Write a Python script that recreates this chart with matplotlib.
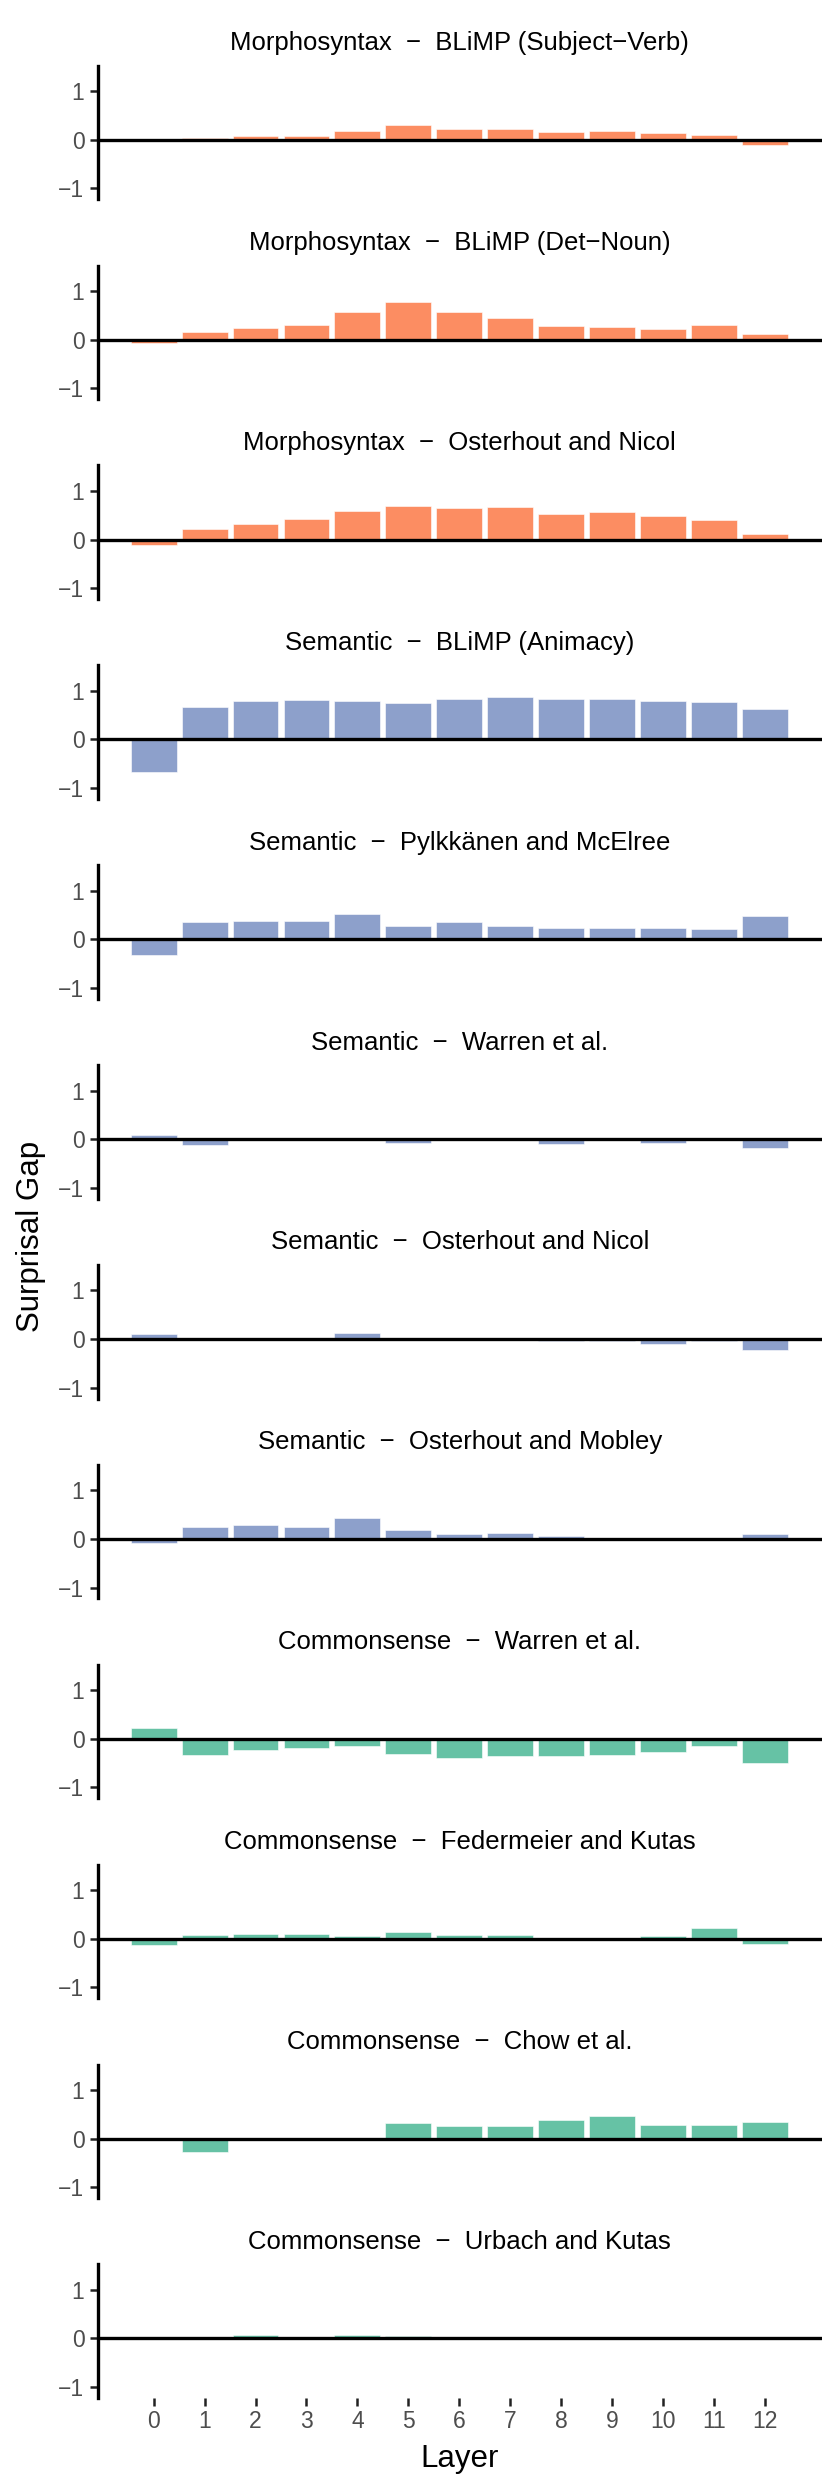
import matplotlib
matplotlib.use('Agg')
import matplotlib.pyplot as plt

plt.rcParams['font.family'] = ['Liberation Sans', 'DejaVu Sans']

layers = list(range(13))

panel_types = ['Morphosyntax', 'Morphosyntax', 'Morphosyntax',
               'Semantic', 'Semantic', 'Semantic', 'Semantic', 'Semantic',
               'Commonsense', 'Commonsense', 'Commonsense', 'Commonsense']
panel_sources = ['BLiMP (Subject\u2212Verb)', 'BLiMP (Det\u2212Noun)', 'Osterhout and Nicol',
                 'BLiMP (Animacy)', 'Pylkk\u00e4nen and McElree', 'Warren et al.',
                 'Osterhout and Nicol', 'Osterhout and Mobley',
                 'Warren et al.', 'Federmeier and Kutas', 'Chow et al.', 'Urbach and Kutas']

type_colors = {'Morphosyntax': '#FC8D62', 'Semantic': '#8DA0CB', 'Commonsense': '#66C2A5'}

morph_subj_verb = [0.0, 0.03, 0.07, 0.08, 0.18, 0.31, 0.23, 0.22, 0.15, 0.18, 0.14, 0.10, -0.10]
morph_det_noun = [-0.07, 0.15, 0.23, 0.31, 0.56, 0.78, 0.57, 0.44, 0.29, 0.26, 0.21, 0.31, 0.11]
morph_osterhout_nicol = [-0.12, 0.22, 0.31, 0.42, 0.59, 0.70, 0.64, 0.67, 0.52, 0.56, 0.48, 0.41, 0.12]
sem_animacy = [-0.67, 0.67, 0.79, 0.81, 0.80, 0.76, 0.84, 0.87, 0.84, 0.83, 0.80, 0.78, 0.63]
sem_pylkkanen = [-0.33, 0.35, 0.37, 0.37, 0.52, 0.27, 0.35, 0.27, 0.24, 0.24, 0.24, 0.22, 0.49]
sem_warren = [0.09, -0.12, 0.0, 0.0, 0.0, -0.07, 0.0, 0.0, -0.10, 0.0, -0.07, 0.0, -0.18]
sem_osterhout_nicol = [0.10, 0.0, 0.0, 0.0, 0.13, 0.0, 0.0, 0.0, -0.04, -0.05, -0.10, -0.05, -0.22]
sem_osterhout_mobley = [-0.08, 0.24, 0.29, 0.24, 0.43, 0.19, 0.10, 0.12, 0.06, 0.0, 0.0, -0.02, 0.10]
cs_warren = [0.22, -0.34, -0.22, -0.19, -0.14, -0.31, -0.40, -0.35, -0.35, -0.33, -0.27, -0.14, -0.49]
cs_federmeier = [-0.12, 0.07, 0.10, 0.10, 0.05, 0.13, 0.07, 0.07, 0.0, 0.02, 0.05, 0.22, -0.10]
cs_chow = [0.0, -0.27, 0.0, 0.0, 0.0, 0.32, 0.26, 0.26, 0.39, 0.47, 0.27, 0.27, 0.35]
cs_urbach = [0.0, 0.01, 0.07, 0.01, 0.07, 0.05, 0.0, 0.01, 0.0, 0.0, 0.0, -0.01, 0.04]

panel_values = [morph_subj_verb, morph_det_noun, morph_osterhout_nicol,
                sem_animacy, sem_pylkkanen, sem_warren, sem_osterhout_nicol, sem_osterhout_mobley,
                cs_warren, cs_federmeier, cs_chow, cs_urbach]

y_ticks = [-1, 0, 1]
y_tick_labels = ['\u22121', '0', '1']

W, H = 830, 2491
fig = plt.figure(figsize=(W / 100, H / 100), dpi=100)

left_px, right_px = 97.6, 822
top0_px, ax_h_px, step_px = 65.7, 133.6, 199.88

for i, (ptype, src, vals) in enumerate(zip(panel_types, panel_sources, panel_values)):
    top = top0_px + i * step_px
    ax = fig.add_axes([left_px / W, 1 - (top + ax_h_px) / H,
                       (right_px - left_px) / W, ax_h_px / H])
    ax.bar(layers, vals, width=0.9, color=type_colors[ptype],
           edgecolor='white', linewidth=0.4, zorder=2)
    ax.axhline(0, color='black', linewidth=2.4, zorder=3)
    ax.set_xlim(-1.1, 13.12)
    ax.set_ylim(-1.225, 1.525)
    for s in ['top', 'right', 'bottom']:
        ax.spines[s].set_visible(False)
    ax.spines['left'].set_linewidth(2.4)
    ax.spines['left'].set_color('black')
    ax.set_yticks(y_ticks)
    ax.set_yticklabels(y_tick_labels)
    ax.tick_params(axis='y', length=5.5, width=1.8, color='#222222',
                   labelsize=16.5, labelcolor='#4D4D4D', pad=4)
    if i == len(panel_values) - 1:
        ax.set_xticks(layers)
        ax.set_xticklabels([str(l) for l in layers])
        ax.tick_params(axis='x', length=5.5, width=1.8, color='#222222',
                       labelsize=16.5, labelcolor='#4D4D4D', pad=3.5)
    else:
        ax.set_xticks([])
    ax.set_facecolor('white')
    title = f'{ptype}  \u2212  {src}'
    fig.text(((left_px + right_px) / 2) / W, 1 - (top - 15.5) / H, title,
             ha='center', va='baseline', fontsize=18.5, color='black')

fig.text(((left_px + right_px) / 2) / W, 1 - 2467 / H, 'Layer',
         ha='center', va='baseline', fontsize=22.5, color='black')
fig.text(31 / W, 1 - 1236 / H, 'Surprisal Gap', rotation=90,
         ha='center', va='center', fontsize=22.5, color='black')

fig.savefig('out.png', dpi=100, facecolor='white')
